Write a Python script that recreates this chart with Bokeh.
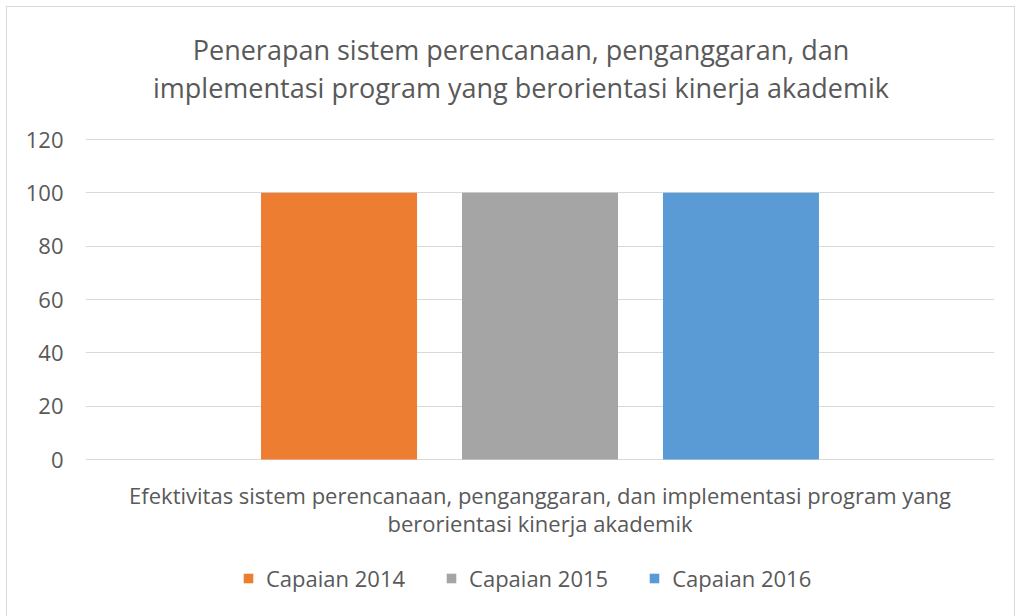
from bokeh.plotting import figure
from bokeh.models import (FactorRange, Range1d, ColumnDataSource, Legend, LegendItem,
                          Label, FixedTicker)
from bokeh.transform import dodge
from bokeh.embed import file_html
from bokeh.resources import INLINE

# ---- data ----
title_lines = ["Penerapan sistem perencanaan, penganggaran, dan",
               "implementasi program yang berorientasi kinerja akademik"]
categories = ["Efektivitas sistem perencanaan, penganggaran, dan implementasi program yang berorientasi kinerja akademik"]
category_label_lines = ["Efektivitas sistem perencanaan, penganggaran, dan implementasi program yang",
                        "berorientasi kinerja akademik"]
series = ["Capaian 2014", "Capaian 2015", "Capaian 2016"]
capaian_2014 = [100]
capaian_2015 = [100]
capaian_2016 = [100]
colors = ["#ED7D31", "#A5A5A5", "#5B9BD5"]
y_ticks = [0, 20, 40, 60, 80, 100, 120]

FONT = "Open Sans"
TXT = "#595959"

# layout (pixels): value axis 0..120 spans 320 px; frame extends above/below
PX_PER_UNIT = 320 / 120
TOP_PAD_PX = 130
BOTTOM_PAD_PX = 146
y_max = y_ticks[-1]
y_start = -BOTTOM_PAD_PX / PX_PER_UNIT
y_end = y_max + TOP_PAD_PX / PX_PER_UNIT

source = ColumnDataSource(dict(cat=categories, s2014=capaian_2014,
                               s2015=capaian_2015, s2016=capaian_2016))

p = figure(x_range=FactorRange(*categories), y_range=Range1d(y_start, y_end),
           frame_width=909, frame_height=320 + TOP_PAD_PX + BOTTOM_PAD_PX,
           output_backend="svg", toolbar_location=None, title=None,
           min_border_left=78, min_border_right=20, min_border_top=2, min_border_bottom=12)

cols = ["s2014", "s2015", "s2016"]
offsets = [-0.2211, 0.0, 0.2211]
renderers = []
for c, off, col in zip(cols, offsets, colors):
    r = p.vbar(x=dodge("cat", off, range=p.x_range), top=c, bottom=0, width=0.1716,
               source=source, fill_color=col, line_color=None)
    renderers.append(r)

# title (two centred lines) anchored above the top of the value axis
for line, off in zip(title_lines, [90, 52]):
    p.add_layout(Label(x=0.5, y=y_max, x_offset=-19, y_offset=off, text=line,
                       text_align="center", text_baseline="middle",
                       text_font=FONT, text_font_size="27px", text_color=TXT))

# category label (two centred lines) below the zero line
for line, off in zip(category_label_lines, [-35, -63]):
    p.add_layout(Label(x=0.5, y=0, y_offset=off, text=line,
                       text_align="center", text_baseline="middle",
                       text_font=FONT, text_font_size="22px", text_color=TXT))

# axes
p.xaxis.visible = False
p.yaxis.ticker = FixedTicker(ticks=y_ticks)
p.yaxis.axis_line_color = None
p.yaxis.major_tick_line_color = None
p.yaxis.minor_tick_line_color = None
p.yaxis.major_label_text_font = FONT
p.yaxis.major_label_text_font_size = "22px"
p.yaxis.major_label_text_color = TXT
p.yaxis.major_label_standoff = 16

p.xgrid.grid_line_color = None
p.ygrid.grid_line_color = "#D9D9D9"
p.outline_line_color = None

legend = Legend(items=[LegendItem(label=s, renderers=[r]) for s, r in zip(series, renderers)],
                orientation="horizontal", location=(157, 12),
                border_line_color=None, background_fill_alpha=0,
                glyph_width=12, glyph_height=12, label_standoff=12, spacing=40,
                label_text_font=FONT, label_text_font_size="22px",
                label_text_color=TXT, padding=5, margin=0)
p.add_layout(legend)

p.styles = {"border": "1px solid #D9D9D9", "margin": "6px 0 0 6px"}

open("out.html", "w").write(file_html(p, INLINE))
